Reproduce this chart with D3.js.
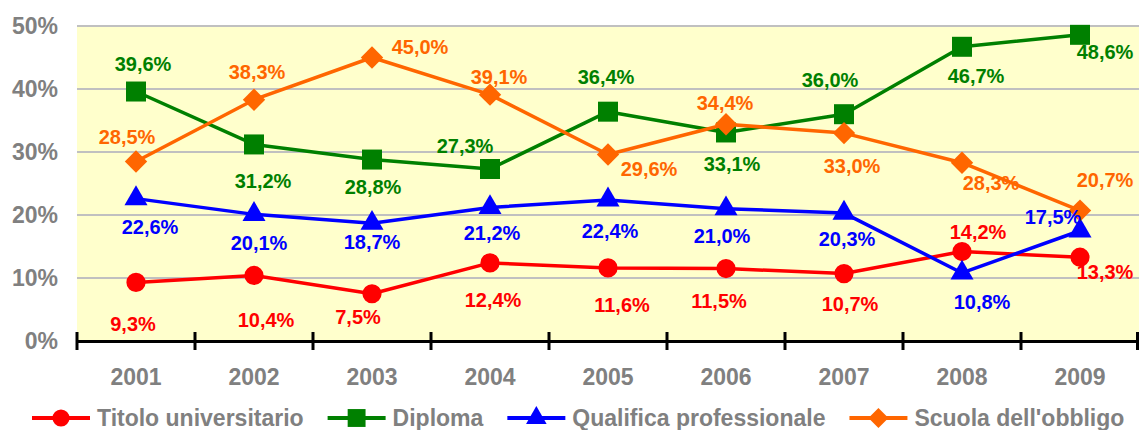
<!DOCTYPE html>
<html>
<head>
<meta charset="utf-8">
<script src="https://cdn.jsdelivr.net/npm/d3@7"></script>
<style>
  body { margin: 0; background: #fff; }
  svg { display: block; font-family: "Liberation Sans", Arial, sans-serif; font-weight: bold; }
</style>
</head>
<body>
<div id="chart"></div>
<script>
// data
var years = ["2001", "2002", "2003", "2004", "2005", "2006", "2007", "2008", "2009"];
var seriesNames = ["Titolo universitario", "Diploma", "Qualifica professionale", "Scuola dell'obbligo"];
var titolo = [9.3, 10.4, 7.5, 12.4, 11.6, 11.5, 10.7, 14.2, 13.3];
var diploma = [39.6, 31.2, 28.8, 27.3, 36.4, 33.1, 36.0, 46.7, 48.6];
var qualifica = [22.6, 20.1, 18.7, 21.2, 22.4, 21.0, 20.3, 10.8, 17.5];
var scuola = [28.5, 38.3, 45.0, 39.1, 29.6, 34.4, 33.0, 28.3, 20.7];
var yTicks = [0, 10, 20, 30, 40, 50];

// label placement (offset from the point, px)
var labelOffsets = [
    [[-3, 41], [12, 44], [-14, 23], [3, 37], [14, 37], [-7, 32], [6, 30], [16, -20], [25, 15]],
    [[7, -28], [9, 36], [1, 27], [-25, -23], [-2, -35], [6, 31], [-14, -34], [14, 29], [25, 17]],
    [[14, 28], [5, 28], [0, 19], [2, 25], [2, 31], [-4, 27], [3, 26], [20, 29], [-27, -14]],
    [[-9, -25], [3, -28], [48, -11], [9, -18], [41, 14], [-1, -21], [8, 33], [29, 20], [25, -31]]
];

var colors = ["#FF0000", "#008000", "#0000FF", "#FF6600"];
var symbols = [d3.symbolCircle, d3.symbolSquare, d3.symbolTriangle, d3.symbolSquare];
var symSizes = [290, 400, 230, 250];
var symRotate = [0, 0, 0, 45];

var series = [titolo, diploma, qualifica, scuola].map(function(vals, i) {
    return {
        name: seriesNames[i],
        color: colors[i],
        values: vals.map(function(v, j) { return {year: years[j], value: v, off: labelOffsets[i][j]}; })
    };
});

var width = 1139, height = 430;
var plotLeft = 77, plotRight = 1139, plotTop = 26, plotBottom = 341;

var svg = d3.select("#chart").append("svg")
    .attr("width", width)
    .attr("height", height);

var x = d3.scaleBand().domain(years).range([plotLeft, plotRight]).padding(0);
var y = d3.scaleLinear().domain([0, 50]).range([plotBottom, plotTop]);

// plot background
svg.append("rect")
    .attr("x", plotLeft).attr("y", y(50))
    .attr("width", plotRight - plotLeft).attr("height", y(0) - y(50))
    .attr("fill", "#FFFFCC");

// gridlines
svg.append("g").selectAll("line")
    .data(yTicks.filter(function(t) { return t > 0; }))
    .enter().append("line")
    .attr("x1", plotLeft).attr("x2", plotRight)
    .attr("y1", function(d) { return y(d); })
    .attr("y2", function(d) { return y(d); })
    .attr("stroke", "#C0C0C0")
    .attr("stroke-width", 2);

// y axis labels
var yAxis = svg.append("g")
    .attr("transform", "translate(" + plotLeft + ",0)")
    .call(d3.axisLeft(y).tickValues(yTicks).tickSize(0).tickPadding(19)
        .tickFormat(function(d) { return d + "%"; }));
yAxis.select(".domain").remove();
yAxis.selectAll("text")
    .attr("fill", "#808080")
    .style("font-size", "23px")
    .style("font-family", "'Liberation Sans', Arial, sans-serif")
    .style("font-weight", "bold");

// x axis
var xAxis = svg.append("g")
    .attr("transform", "translate(0," + plotBottom + ")")
    .call(d3.axisBottom(x).tickSize(0).tickPadding(28));
xAxis.select(".domain")
    .attr("stroke", "#000")
    .attr("stroke-width", 3);
xAxis.selectAll("text")
    .attr("fill", "#808080")
    .style("font-size", "23px")
    .style("font-family", "'Liberation Sans', Arial, sans-serif")
    .style("font-weight", "bold");

// category boundary ticks
var bounds = years.map(function(d) { return x(d); }).concat([x(years[years.length - 1]) + x.bandwidth()]);
svg.append("g").selectAll("line")
    .data(bounds)
    .enter().append("line")
    .attr("x1", function(d) { return Math.min(d, width - 1.5); })
    .attr("x2", function(d) { return Math.min(d, width - 1.5); })
    .attr("y1", plotBottom - 9).attr("y2", plotBottom + 9)
    .attr("stroke", "#000")
    .attr("stroke-width", 3);

var cx = function(d) { return x(d.year) + x.bandwidth() / 2; };

var line = d3.line()
    .x(cx)
    .y(function(d) { return y(d.value); });

var g = svg.selectAll(".serie")
    .data(series)
    .enter().append("g")
    .attr("class", "serie");

g.append("path")
    .attr("d", function(d) { return line(d.values); })
    .attr("fill", "none")
    .attr("stroke", function(d) { return d.color; })
    .attr("stroke-width", 3.5)
    .attr("stroke-linejoin", "round");

g.each(function(s, i) {
    d3.select(this).selectAll(".mark")
        .data(s.values)
        .enter().append("path")
        .attr("class", "mark")
        .attr("d", d3.symbol().type(symbols[i]).size(symSizes[i]))
        .attr("transform", function(d) {
            return "translate(" + cx(d) + "," + y(d.value) + ") rotate(" + symRotate[i] + ")";
        })
        .attr("fill", s.color);
});

// data labels
series.forEach(function(s) {
    svg.append("g").selectAll("text")
        .data(s.values)
        .enter().append("text")
        .attr("x", function(d) { return cx(d) + d.off[0]; })
        .attr("y", function(d) { return y(d.value) + d.off[1]; })
        .attr("dy", "0.36em")
        .attr("text-anchor", "middle")
        .attr("fill", s.color)
        .style("font-size", "20px")
        .text(function(d) { return d.value.toFixed(1).replace(".", ",") + "%"; });
});

// legend
var legend = svg.append("g").attr("transform", "translate(0,418)");
var lx = 32;
series.forEach(function(s, i) {
    var item = legend.append("g");
    item.append("line")
        .attr("x1", lx).attr("x2", lx + 58)
        .attr("stroke", s.color).attr("stroke-width", 4);
    item.append("path")
        .attr("d", d3.symbol().type(symbols[i]).size(symSizes[i] * 0.8))
        .attr("transform", "translate(" + (lx + 29) + ",0) rotate(" + symRotate[i] + ")")
        .attr("fill", s.color);
    var t = item.append("text")
        .attr("x", lx + 65)
        .attr("dy", "0.36em")
        .attr("fill", "#808080")
        .style("font-size", "23px")
        .text(s.name);
    lx = lx + 65 + t.node().getComputedTextLength() + 24;
});
</script>
</body>
</html>
